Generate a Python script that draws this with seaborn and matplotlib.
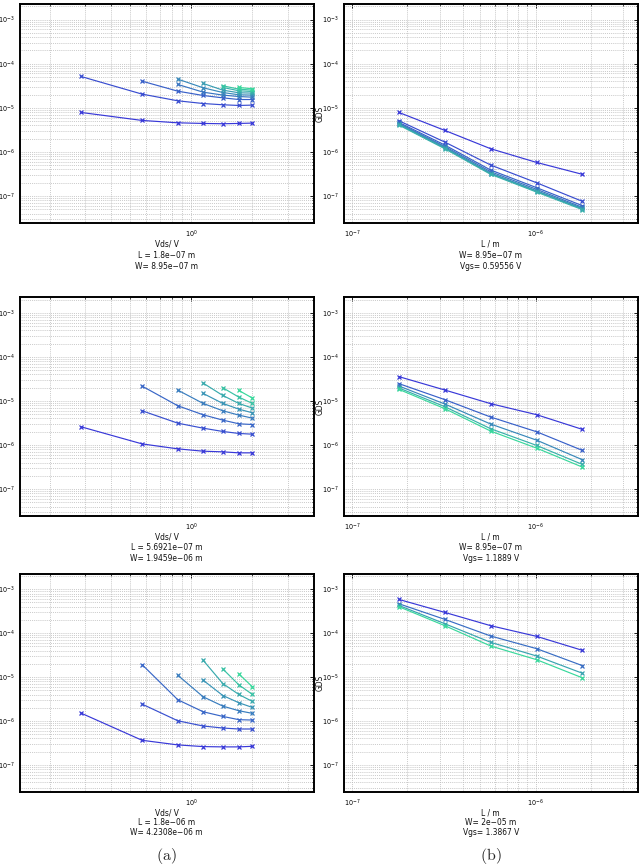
import numpy as np
import pandas as pd
import matplotlib
matplotlib.use("Agg")
import matplotlib.pyplot as plt
import matplotlib.font_manager as fm
from matplotlib.ticker import LogLocator, NullFormatter
import seaborn as sns

# ---------------- data ----------------
VDS = [0.2857, 0.5714, 0.8571, 1.1429, 1.4286, 1.7143, 2.0]
LEN = [1.8e-7, 3.2009e-7, 5.6921e-7, 1.0122e-6, 1.8e-6]

# left panels: GDS vs Vds, each curve ends at the last Vds point
gds_vds_row1 = [
    [7.84e-6, 5.17e-6, 4.57e-6, 4.42e-6, 4.35e-6, 4.42e-6, 4.50e-6],
    [5.12e-5, 2.04e-5, 1.44e-5, 1.25e-5, 1.17e-5, 1.13e-5, 1.15e-5],
    [4.01e-5, 2.38e-5, 1.90e-5, 1.68e-5, 1.54e-5, 1.54e-5],
    [3.38e-5, 2.26e-5, 1.94e-5, 1.80e-5, 1.74e-5],
    [4.46e-5, 2.84e-5, 2.22e-5, 1.97e-5, 1.94e-5],
    [3.56e-5, 2.51e-5, 2.19e-5, 2.15e-5],
    [2.89e-5, 2.43e-5, 2.34e-5],
    [3.15e-5, 2.65e-5, 2.51e-5],
    [2.89e-5, 2.69e-5],
]
gds_vds_row2 = [
    [2.59e-6, 1.06e-6, 8.18e-7, 7.24e-7, 7.0e-7, 6.64e-7, 6.64e-7],
    [5.98e-6, 3.13e-6, 2.41e-6, 2.03e-6, 1.83e-6, 1.76e-6],
    [2.17e-5, 7.77e-6, 4.85e-6, 3.67e-6, 3.03e-6, 2.92e-6],
    [1.76e-5, 8.78e-6, 5.98e-6, 4.77e-6, 4.07e-6],
    [1.48e-5, 8.78e-6, 6.52e-6, 5.38e-6],
    [2.54e-5, 1.33e-5, 8.78e-6, 6.87e-6],
    [1.99e-5, 1.22e-5, 8.78e-6],
    [1.73e-5, 1.16e-5],
]
gds_vds_row3 = [
    [1.51e-6, 3.63e-7, 2.85e-7, 2.61e-7, 2.57e-7, 2.57e-7, 2.65e-7],
    [2.42e-6, 1.01e-6, 7.67e-7, 6.91e-7, 6.56e-7, 6.56e-7],
    [1.92e-5, 3.04e-6, 1.62e-6, 1.27e-6, 1.07e-6, 1.05e-6],
    [1.10e-5, 3.55e-6, 2.18e-6, 1.71e-6, 1.49e-6],
    [8.48e-6, 3.80e-6, 2.60e-6, 2.03e-6],
    [2.41e-5, 7.12e-6, 4.01e-6, 2.78e-6],
    [1.53e-5, 6.64e-6, 4.01e-6],
    [1.18e-5, 5.98e-6],
]

# right panels: GDS vs L
gds_len_row1 = [
    [7.84e-6, 3.07e-6, 1.18e-6, 5.78e-7, 3.10e-7],
    [5.08e-6, 1.67e-6, 5.04e-7, 2.00e-7, 7.57e-8],
    [4.66e-6, 1.43e-6, 3.88e-7, 1.55e-7, 6.04e-8],
    [4.42e-6, 1.33e-6, 3.56e-7, 1.42e-7, 5.54e-8],
    [4.27e-6, 1.26e-6, 3.32e-7, 1.32e-7, 5.26e-8],
    [4.19e-6, 1.22e-6, 3.20e-7, 1.28e-7, 5.08e-8],
    [4.05e-6, 1.18e-6, 3.10e-7, 1.23e-7, 4.91e-8],
]
gds_len_row2 = [
    [3.56e-5, 1.77e-5, 8.67e-6, 4.88e-6, 2.26e-6],
    [2.47e-5, 1.07e-5, 4.31e-6, 2.00e-6, 7.54e-7],
    [2.18e-5, 8.52e-6, 2.99e-6, 1.29e-6, 4.63e-7],
    [1.97e-5, 7.41e-6, 2.34e-6, 9.80e-7, 3.62e-7],
    [1.83e-5, 6.68e-6, 2.07e-6, 8.51e-7, 3.15e-7],
]
gds_len_row3 = [
    [5.86e-4, 2.97e-4, 1.48e-4, 8.46e-5, 4.06e-5],
    [4.67e-4, 2.06e-4, 8.61e-5, 4.44e-5, 1.82e-5],
    [4.28e-4, 1.64e-4, 6.18e-5, 3.02e-5, 1.22e-5],
    [4.00e-4, 1.48e-4, 5.10e-5, 2.49e-5, 9.6e-6],
]

left_labels = [
    "Vds/ V\nL = 1.8e\u221207 m\nW= 8.95e\u221207 m",
    "Vds/ V\nL = 5.6921e\u221207 m\nW= 1.9459e\u221206 m",
    "Vds/ V\nL = 1.8e\u221206 m\nW= 4.2308e\u221206 m",
]
right_labels = [
    "L / m\nW= 8.95e\u221207 m\nVgs= 0.59556 V",
    "L / m\nW= 8.95e\u221207 m\nVgs= 1.1889 V",
    "L / m\nW= 2e\u221205 m\nVgs= 1.3867 V",
]
y_label = "GDS"
captions = ["(a)", "(b)"]

# ---------------- style ----------------
sns.set_theme(style="white")

# pick a condensed sans font if one is installed
_fonts = fm.fontManager.ttflist
_names = {f.name for f in _fonts}
if 'Liberation Sans Narrow' in _names:
    FAM, STRETCH, FS = 'Liberation Sans Narrow', 'normal', 6.4
elif any(f.name == 'DejaVu Sans' and str(f.stretch) in ('condensed', 'semi-condensed') for f in _fonts):
    FAM, STRETCH, FS = 'DejaVu Sans', 'condensed', 6.0
elif 'Roboto Condensed' in _names:
    FAM, STRETCH, FS = 'Roboto Condensed', 'normal', 6.2
else:
    FAM, STRETCH, FS = 'Liberation Sans', 'normal', 5.6

plt.rcParams['font.family'] = [FAM, 'DejaVu Sans']
plt.rcParams['mathtext.fontset'] = 'custom'
plt.rcParams['mathtext.rm'] = FAM
plt.rcParams['mathtext.it'] = FAM
plt.rcParams['mathtext.bf'] = FAM + ':bold'

W, H = 642, 864
fig = plt.figure(figsize=(W / 100, H / 100), dpi=100)

cols = [(20, 313.5), (343.7, 637.7)]
rows = [(4, 223), (297.3, 516), (573.8, 791.7)]
row_linespacing = [1.32, 1.22, 1.12]
YLIM = (2.45e-8, 2.25e-3)


def make_ax(col, row):
    x0, x1 = cols[col]
    y0, y1 = rows[row]
    return fig.add_axes([x0 / W, 1 - y1 / H, (x1 - x0) / W, (y1 - y0) / H])


def style_ax(ax, xlim, xlabel, row):
    ax.set_xscale('log')
    ax.set_yscale('log')
    ax.set_xlim(*xlim)
    ax.set_ylim(*YLIM)
    ax.xaxis.set_major_locator(LogLocator(base=10, numticks=20))
    ax.yaxis.set_major_locator(LogLocator(base=10, numticks=20))
    ax.xaxis.set_minor_locator(LogLocator(base=10, subs=np.arange(2, 10), numticks=100))
    ax.yaxis.set_minor_locator(LogLocator(base=10, subs=np.arange(2, 10), numticks=100))
    ax.xaxis.set_minor_formatter(NullFormatter())
    ax.yaxis.set_minor_formatter(NullFormatter())
    ax.grid(True, which='both', linestyle=(0, (1, 1.3)), color='#bababa', linewidth=0.6)
    ax.set_axisbelow(True)
    for s in ax.spines.values():
        s.set_linewidth(1.4)
        s.set_color('black')
    ax.tick_params(which='both', direction='in', top=True, right=True, colors='black')
    ax.tick_params(axis='y', which='major', length=3, width=0.6, labelsize=4.7, pad=3.6)
    ax.tick_params(axis='x', which='major', length=3, width=0.6, labelsize=4.7, pad=4)
    ax.tick_params(which='minor', length=1.5, width=0.5)
    ax.set_xlabel(xlabel, fontsize=FS, linespacing=row_linespacing[row], labelpad=0,
                  fontstretch=STRETCH, color='#111111')
    ax.set_ylabel(y_label, fontsize=FS, fontstretch=STRETCH, color='#111111')
    ax.yaxis.set_label_coords(-19.5 / 294, 0.5)


def draw(ax, xs, curves, pal_n=None, align_end=True):
    recs = []
    for i, c in enumerate(curves):
        start = len(xs) - len(c) if align_end else 0
        for j, v in enumerate(c):
            recs.append({"x": xs[start + j], "gds": v, "curve": f"c{i}"})
    df = pd.DataFrame(recs)
    n = pal_n or len(curves)
    pal = sns.blend_palette(["#3838d8", "#38d89c"], n)[:len(curves)]
    sns.lineplot(data=df, x="x", y="gds", hue="curve", hue_order=[f"c{i}" for i in range(len(curves))],
                 palette=pal, marker='x', markersize=2.2, markeredgewidth=0.9, linewidth=0.85,
                 estimator=None, sort=False, legend=False, ax=ax)
    for ln in ax.lines:
        ln.set_markeredgecolor(ln.get_color())
        ln.set_markerfacecolor(ln.get_color())


left_data = [gds_vds_row1, gds_vds_row2, gds_vds_row3]
right_data = [gds_len_row1, gds_len_row2, gds_len_row3]

for r in range(3):
    axl = make_ax(0, r)
    axl.set_xscale('log'); axl.set_yscale('log')
    draw(axl, VDS, left_data[r])
    style_ax(axl, (VDS[0] / 2, VDS[-1] * 2), left_labels[r], r)

    axr = make_ax(1, r)
    axr.set_xscale('log'); axr.set_yscale('log')
    draw(axr, LEN, right_data[r], pal_n=9 if r == 0 else None, align_end=False)
    style_ax(axr, (LEN[0] / 2, LEN[-1] * 2), right_labels[r], r)

fig.text(166.7 / W, 1 - 855.5 / H, r"$\mathrm{" + captions[0] + "}$", ha='center', va='center', fontsize=11.5,
         math_fontfamily='cm')
fig.text(490.7 / W, 1 - 855.5 / H, r"$\mathrm{" + captions[1] + "}$", ha='center', va='center', fontsize=11.5,
         math_fontfamily='cm')

fig.savefig("out.png", dpi=100, facecolor='white')
